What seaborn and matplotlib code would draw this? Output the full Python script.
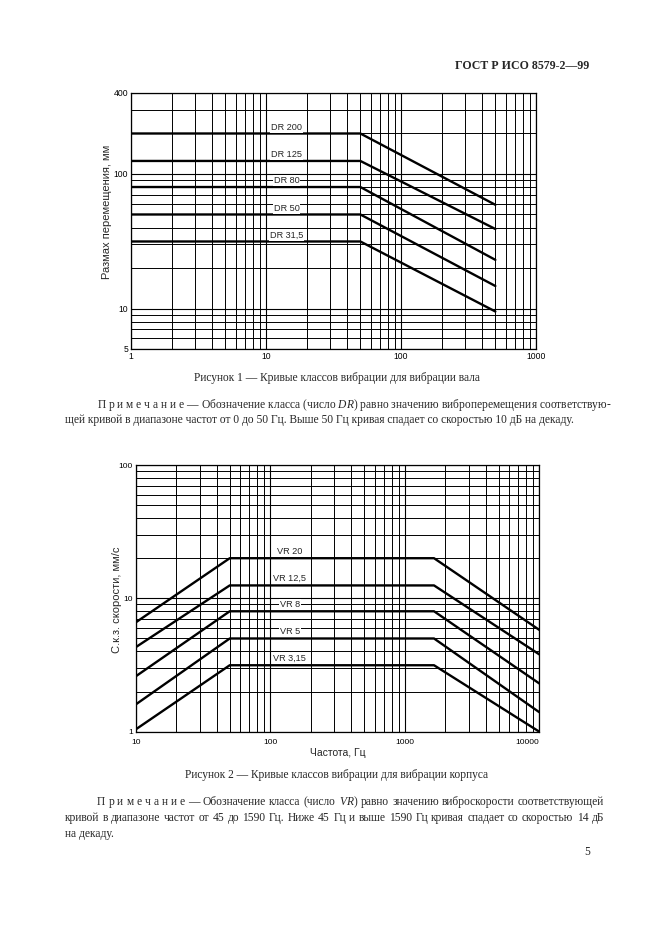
"""
Кривые классов вибрации (ГОСТ Р ИСО 8579-2-99, стр. 5)
Два графика в логарифмическом масштабе: вибрация вала и вибрация корпуса.
"""

import numpy as np
import pandas as pd
import matplotlib
matplotlib.use("Agg")
import matplotlib.pyplot as plt
import seaborn as sns
from matplotlib.ticker import FixedLocator, LogLocator, NullFormatter

# %%
# Рисунок 1 - вибрация вала (размах перемещения)
dr_classes = ["DR 200", "DR 125", "DR 80", "DR 50", "DR 31,5"]
dr_freq = [1, 50, 500]
dr_levels = [200, 125, 80, 50, 31.5]
dr_end = [59, 39, 23, 14.7, 9.5]
dr_label_freq = 14.2
dr_xticks = [1, 10, 100, 1000]
dr_yticks = [5, 10, 100, 400]

# Рисунок 2 - вибрация корпуса (с.к.з. скорости)
vr_classes = ["VR 20", "VR 12,5", "VR 8", "VR 5", "VR 3,15"]
vr_freq = [10, 50, 1650, 10000]
vr_start = [6.6, 4.3, 2.6, 1.6, 1.04]
vr_levels = [20, 12.5, 8, 5, 3.15]
vr_end = [5.8, 3.8, 2.3, 1.4, 1.0]
vr_label_freq = 140
vr_xticks = [10, 100, 1000, 10000]
vr_yticks = [1, 10, 100]

# %%
# Таблицы в длинном формате для seaborn
linhas = []
for nome, nivel, fim in zip(dr_classes, dr_levels, dr_end):
    for f, v in zip(dr_freq, [nivel, nivel, fim]):
        linhas.append({"класс": nome, "частота": f, "значение": v})
df_dr = pd.DataFrame(linhas)

linhas = []
for nome, ini, nivel, fim in zip(vr_classes, vr_start, vr_levels, vr_end):
    for f, v in zip(vr_freq, [ini, nivel, nivel, fim]):
        linhas.append({"класс": nome, "частота": f, "значение": v})
df_vr = pd.DataFrame(linhas)

# %%
sns.set_theme(style="white")
plt.rcParams["font.family"] = ["Liberation Sans", "DejaVu Sans"]
plt.rcParams["mathtext.fontset"] = "custom"
plt.rcParams["mathtext.rm"] = "Liberation Serif"
plt.rcParams["mathtext.it"] = "Liberation Serif:italic"

W, H = 661, 935
fig = plt.figure(figsize=(W / 100, H / 100), dpi=100)
fig.patch.set_facecolor("white")


def eixo(x0, y0, x1, y1):
    # retângulo em pixels da página -> frações da figura
    return fig.add_axes([x0 / W, 1 - y1 / H, (x1 - x0) / W, (y1 - y0) / H])


def preparar(ax, xlim, ylim, xticks, yticks, fs):
    ax.set_xscale("log")
    ax.set_yscale("log")
    ax.set_xlim(*xlim)
    ax.set_ylim(*ylim)
    ax.xaxis.set_major_locator(FixedLocator(xticks))
    ax.yaxis.set_major_locator(FixedLocator(yticks))
    ax.set_xticklabels([str(t) for t in xticks])
    ax.set_yticklabels([str(t) for t in yticks])
    for eixo_ in (ax.xaxis, ax.yaxis):
        eixo_.set_minor_locator(LogLocator(base=10, subs=np.arange(2, 10)))
        eixo_.set_minor_formatter(NullFormatter())
    ax.grid(True, which="major", color="black", linewidth=0.8)
    ax.grid(True, which="minor", color="black", linewidth=0.7)
    ax.tick_params(which="both", length=0, labelsize=fs, colors="black")
    for s in ax.spines.values():
        s.set_color("black")
        s.set_linewidth(0.9)
    ax.set_facecolor("white")


# --- Gráfico 1 ---
ax1 = eixo(131, 93, 536, 349)
preparar(ax1, (1, 1000), (5, 400), dr_xticks, dr_yticks, 6.2)
sns.lineplot(data=df_dr, x="частота", y="значение", hue="класс",
             palette=["black"] * len(dr_classes), linewidth=1.7,
             legend=False, ax=ax1)
for nome, nivel in zip(dr_classes, dr_levels):
    ax1.annotate(nome, xy=(dr_label_freq, nivel), xytext=(0, 4.6),
                 textcoords="offset points", ha="center", va="center",
                 fontsize=6.6,
                 bbox=dict(boxstyle="square,pad=0.1", fc="white", ec="none"))
ax1.set_xlabel("")
ax1.set_ylabel("Размах перемещения, мм", fontsize=8)
ax1.yaxis.set_label_coords(-0.047, 0.535)
ax1.tick_params(axis="x", pad=2)
ax1.tick_params(axis="y", pad=2)

# --- Gráfico 2 ---
ax2 = eixo(135.7, 465, 539.3, 731.7)
preparar(ax2, (10, 10000), (1, 100), vr_xticks, vr_yticks, 6)
sns.lineplot(data=df_vr, x="частота", y="значение", hue="класс",
             palette=["black"] * len(vr_classes), linewidth=1.7,
             legend=False, ax=ax2)
for nome, nivel in zip(vr_classes, vr_levels):
    ax2.annotate(nome, xy=(vr_label_freq, nivel), xytext=(0, 4.8),
                 textcoords="offset points", ha="center", va="center",
                 fontsize=6.6,
                 bbox=dict(boxstyle="square,pad=0.1", fc="white", ec="none"))
ax2.set_xlabel("Частота, Гц", fontsize=7.5)
ax2.xaxis.set_label_coords(0.5, -0.061)
ax2.set_ylabel("С.к.з. скорости, мм/с", fontsize=8)
ax2.yaxis.set_label_coords(-0.034, 0.494)
ax2.tick_params(axis="x", pad=5)
ax2.tick_params(axis="y", pad=2)
ax2.get_xticklabels()[-1].set_horizontalalignment("right")

# %%
# Textos da página (cabeçalho, legendas das figuras, notas)
serif = ["Liberation Serif", "DejaVu Serif"]
fs_txt = 8.3


def texto(x, y, s, ha="left", **kw):
    return fig.text(x / W, 1 - y / H, s, ha=ha, va="center",
                    fontsize=kw.pop("fontsize", fs_txt), family=serif, **kw)


def justificada(x0, x1, y, s):
    # linha justificada: palavras distribuídas entre x0 e x1
    objs = [texto(0, y, p) for p in s.split(" ")]
    r = fig.canvas.get_renderer()
    larguras = [o.get_window_extent(r).width for o in objs]
    gap = (x1 - x0 - sum(larguras)) / (len(objs) - 1)
    x = x0
    for o, w in zip(objs, larguras):
        o.set_x(x / W)
        x += w + gap


texto(589, 66, "ГОСТ Р ИСО 8579-2—99", ha="right", fontsize=8.6,
      fontweight="bold")

texto(337, 378, "Рисунок 1 — Кривые классов вибрации для вибрации вала",
      ha="center")
texto(97, 405, "П р и м е ч а н и е — Обозначение класса (число "
      "$\\mathit{DR}$) равно значению виброперемещения соответствую-")
texto(65, 420, "щей кривой в диапазоне частот от 0 до 50 Гц. Выше 50 Гц "
      "кривая спадает со скоростью 10 дБ на декаду.")

texto(337, 775, "Рисунок 2 — Кривые классов вибрации для вибрации корпуса",
      ha="center")
justificada(97, 604, 802,
            "П р и м е ч а н и е — Обозначение класса (число $\\mathit{VR}$) "
            "равно значению виброскорости соответствующей")
justificada(65, 604, 818,
            "кривой в диапазоне частот от 45 до 1590 Гц. Ниже 45 Гц и выше "
            "1590 Гц кривая спадает со скоростью 14 дБ")
texto(65, 834, "на декаду.")

texto(590, 852, "5", ha="right")

fig.savefig("out.png", dpi=100, facecolor="white")
